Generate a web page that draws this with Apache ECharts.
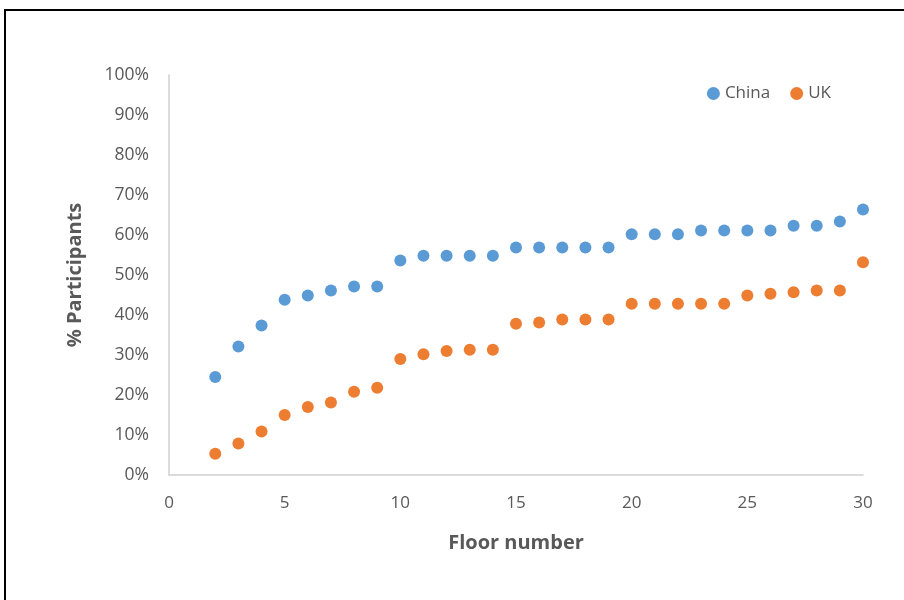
<!DOCTYPE html>
<html>
<head>
<meta charset="utf-8">
<script src="https://cdn.jsdelivr.net/npm/echarts@6/dist/echarts.min.js"></script>
<style>
  html, body { margin: 0; padding: 0; background: #fff; }
  #chart { width: 904px; height: 600px; }
</style>
</head>
<body>
<div id="chart"></div>
<script>
// Floor numbers surveyed
const floors = [2, 3, 4, 5, 6, 7, 8, 9, 10, 11, 12, 13, 14, 15, 16, 17, 18, 19, 20, 21, 22, 23, 24, 25, 26, 27, 28, 29, 30];
// Share of participants (%) per floor
const chinaPct = [24.5, 32.1, 37.4, 43.8, 44.9, 46.1, 47.1, 47.1, 53.6, 54.8, 54.8, 54.8, 54.8, 56.9, 56.9, 56.9, 56.9, 56.9, 60.2, 60.2, 60.2, 61.1, 61.1, 61.1, 61.1, 62.3, 62.3, 63.4, 66.4];
const ukPct = [5.3, 7.9, 10.9, 15.0, 17.0, 18.1, 20.8, 21.8, 29.0, 30.2, 31.0, 31.3, 31.3, 37.8, 38.1, 38.9, 38.9, 38.9, 42.8, 42.8, 42.8, 42.8, 42.8, 44.9, 45.3, 45.7, 46.1, 46.1, 53.2];
const seriesNames = ['China', 'UK'];

const pairs = (ys) => floors.map((f, i) => [f, ys[i]]);
const font = '"Open Sans", Lato, sans-serif';
const grey = '#595959';

const chart = echarts.init(document.getElementById('chart'));
chart.setOption({
  animation: false,
  backgroundColor: '#fff',
  textStyle: { fontFamily: font },
  graphic: [{
    type: 'rect',
    shape: { x: 5, y: 10, width: 1000, height: 1000 },
    style: { fill: 'none', stroke: '#000', lineWidth: 2 },
    silent: true
  }],
  legend: {
    data: seriesNames,
    right: 68,
    top: 80,
    itemWidth: 13,
    itemHeight: 13,
    itemGap: 20,
    icon: 'circle',
    textStyle: { color: grey, fontSize: 17, fontFamily: font }
  },
  grid: { left: 169, right: 41, top: 75, bottom: 125 },
  xAxis: {
    type: 'value',
    min: 0, max: 30, interval: 5,
    name: 'Floor number',
    nameLocation: 'middle',
    nameGap: 58,
    nameTextStyle: { color: grey, fontSize: 20, fontWeight: 'bold', fontFamily: font },
    axisLine: { show: true, lineStyle: { color: '#d0d0d0', width: 1.5 } },
    axisTick: { show: false },
    splitLine: { show: false },
    axisLabel: { color: grey, fontSize: 17, margin: 20, fontFamily: font }
  },
  yAxis: {
    type: 'value',
    min: 0, max: 100, interval: 10,
    name: '% Participants',
    nameLocation: 'middle',
    nameGap: 84,
    nameTextStyle: { color: grey, fontSize: 20, fontWeight: 'bold', fontFamily: font },
    axisLine: { show: true, lineStyle: { color: '#d0d0d0', width: 1.5 } },
    axisTick: { show: false },
    splitLine: { show: false },
    axisLabel: { color: grey, fontSize: 17.5, margin: 20, fontFamily: font, formatter: '{value}%' }
  },
  series: [
    { name: seriesNames[0], type: 'scatter', symbolSize: 12, itemStyle: { color: '#5B9BD5', opacity: 1 }, data: pairs(chinaPct) },
    { name: seriesNames[1], type: 'scatter', symbolSize: 12, itemStyle: { color: '#ED7D31', opacity: 1 }, data: pairs(ukPct) }
  ]
});
</script>
</body>
</html>
